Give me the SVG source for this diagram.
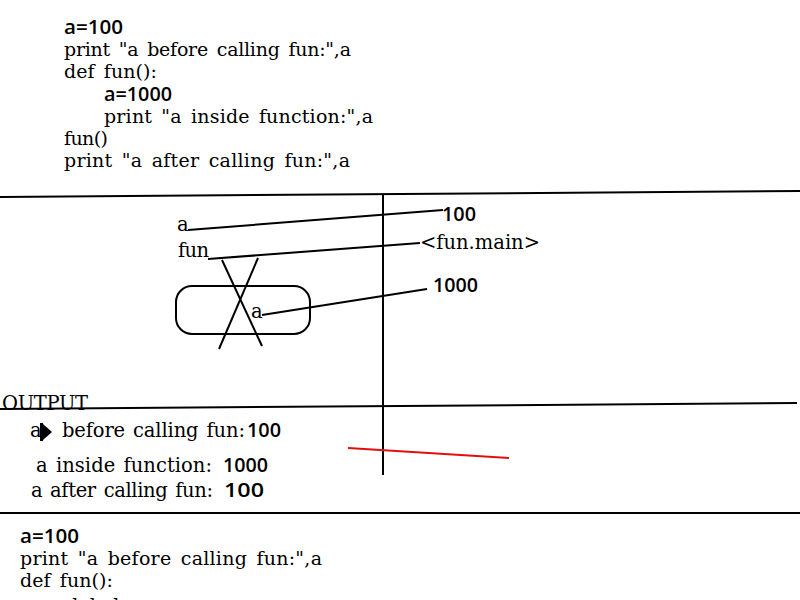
<svg xmlns="http://www.w3.org/2000/svg" width="800" height="600" viewBox="0 0 800 600">
<style>
.s{font-family:"DejaVu Serif","Liberation Serif",serif;font-size:19px;fill:#000;word-spacing:3px}
.o{font-family:"DejaVu Serif","Liberation Serif",serif;font-size:19.5px;fill:#000;word-spacing:2px}
.n{font-family:"Open Sans","Noto Sans","DejaVu Sans",sans-serif;font-size:20px;font-weight:600;fill:#000}
.ln{stroke:#000;stroke-width:2;fill:none}
</style>
<rect width="800" height="600" fill="#fff"/>
<g id="code-top">
<text class="n" x="64" y="34" textLength="59" lengthAdjust="spacingAndGlyphs">a=100</text>
<text class="s" x="64" y="56" textLength="287" lengthAdjust="spacing">print "a before calling fun:",a</text>
<text class="s" x="64" y="78" textLength="93" lengthAdjust="spacing">def fun():</text>
<text class="n" x="104" y="101" textLength="68" lengthAdjust="spacingAndGlyphs">a=1000</text>
<text class="s" x="104" y="123" textLength="269" lengthAdjust="spacing">print "a inside function:",a</text>
<text class="s" x="64" y="145" textLength="44" lengthAdjust="spacing">fun()</text>
<text class="s" x="64" y="167" textLength="286" lengthAdjust="spacing">print "a after calling fun:",a</text>
</g>
<g id="dividers">
<line class="ln" x1="0" y1="197" x2="800" y2="191"/>
<line class="ln" x1="383" y1="195" x2="383" y2="475"/>
<line class="ln" x1="0" y1="409" x2="797" y2="403"/>
<line class="ln" x1="0" y1="513" x2="800" y2="513"/>
</g>
<g id="frame">
<text class="o" x="177" y="231">a</text>
<text class="o" x="178" y="257" textLength="31" lengthAdjust="spacing">fun</text>
<rect id="local-frame" x="176" y="286" width="134" height="48" rx="16" class="ln"/>
<line class="ln" x1="222" y1="260" x2="262" y2="346"/>
<line class="ln" x1="258" y1="258" x2="219" y2="349"/>
<text class="o" x="251" y="318">a</text>
</g>
<g id="values">
<text class="n" x="442" y="221" textLength="34" lengthAdjust="spacingAndGlyphs">100</text>
<text class="o" x="420" y="249" textLength="120" lengthAdjust="spacing">&lt;fun.main&gt;</text>
<text class="n" x="433" y="292" textLength="45" lengthAdjust="spacingAndGlyphs">1000</text>
</g>
<g id="connectors">
<line class="ln" x1="188" y1="230" x2="443" y2="210"/>
<line class="ln" x1="208" y1="259" x2="420" y2="243"/>
<line class="ln" x1="262" y1="315" x2="427" y2="289"/>
<line x1="348" y1="448" x2="509" y2="458" stroke="#e01010" stroke-width="2"/>
</g>
<g id="output">
<text class="o" x="2" y="410" textLength="86" lengthAdjust="spacing">OUTPUT</text>
<text class="o" x="30" y="437">a</text>
<text class="o" x="62" y="437" textLength="183" lengthAdjust="spacing">before calling fun:</text>
<text class="n" x="247" y="437" textLength="34" lengthAdjust="spacingAndGlyphs">100</text>
<path d="M40 423 H43 V441 H40 Z M43 424 L52 432 L43 440 Z" fill="#000"/>
<text class="o" x="36" y="472" textLength="176" lengthAdjust="spacing">a inside function:</text>
<text class="n" x="223" y="472" textLength="45" lengthAdjust="spacingAndGlyphs">1000</text>
<text class="o" x="31" y="497" textLength="182" lengthAdjust="spacing">a after calling fun:</text>
<text class="n" x="224" y="497" textLength="40" lengthAdjust="spacingAndGlyphs">100</text>
</g>
<g id="code-bottom">
<text class="n" x="20" y="543" textLength="59" lengthAdjust="spacingAndGlyphs">a=100</text>
<text class="s" x="20" y="565" textLength="302" lengthAdjust="spacing">print "a before calling fun:",a</text>
<text class="s" x="20" y="587" textLength="93" lengthAdjust="spacing">def fun():</text>
<text class="s" x="60" y="612">global a</text>
</g>
</svg>
